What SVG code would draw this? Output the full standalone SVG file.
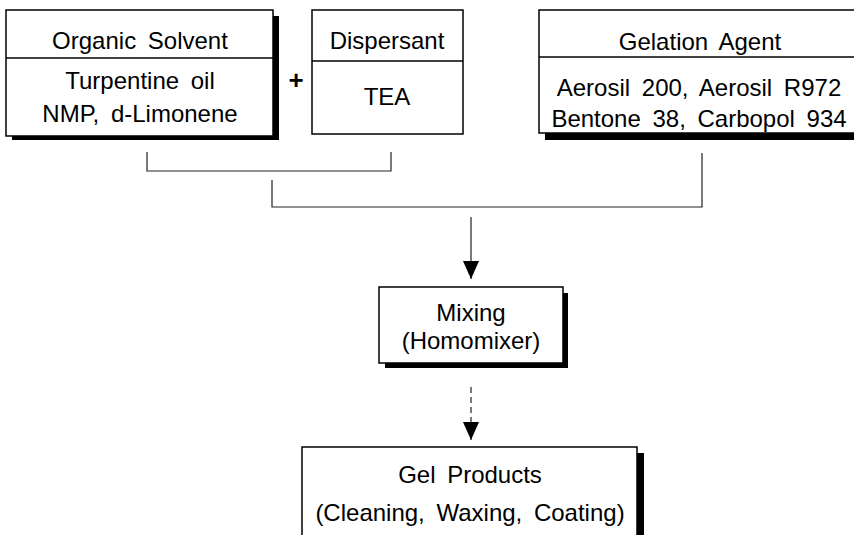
<svg xmlns="http://www.w3.org/2000/svg" width="854" height="535" viewBox="0 0 854 535">
<style>
.box{fill:#fff;stroke:#000;stroke-width:1.5}
.sh{fill:#000}
.div{stroke:#000;stroke-width:1.5}
text{font-family:"Liberation Sans",Arial,sans-serif;font-size:24px;fill:#000;text-anchor:middle;word-spacing:5px}
.plus{font-size:26px;font-weight:bold}
.conn{fill:none;stroke:#222;stroke-width:1.2}
</style>
<defs>
<marker id="ah" viewBox="0 0 18 16" refX="18" refY="8" markerWidth="18" markerHeight="16" markerUnits="userSpaceOnUse" orient="auto">
<path d="M0,0 L18,8 L0,16 Z" fill="#000"/>
</marker>
</defs>
<rect width="854" height="535" fill="#fff"/>
<g id="organic-solvent">
<rect class="sh" x="12" y="16" width="267" height="124"/>
<rect class="box" x="6" y="10" width="267" height="126"/>
<line class="div" x1="6" y1="58" x2="273" y2="58"/>
<text x="140" y="49">Organic Solvent</text>
<text x="140" y="89">Turpentine oil</text>
<text x="140" y="122">NMP, d-Limonene</text>
</g>
<g id="plus">
<text class="plus" x="296" y="89">+</text>
</g>
<g id="dispersant">
<rect class="box" x="312" y="10" width="151" height="124"/>
<line class="div" x1="312" y1="61" x2="463" y2="61"/>
<text x="387" y="49">Dispersant</text>
<text x="387" y="105">TEA</text>
</g>
<g id="gelation-agent">
<rect class="sh" x="545" y="16" width="320" height="124"/>
<rect class="box" x="539" y="10" width="322" height="123"/>
<line class="div" x1="539" y1="57" x2="861" y2="57"/>
<text x="700" y="50">Gelation Agent</text>
<text x="699" y="96">Aerosil 200, Aerosil R972</text>
<text x="699" y="127">Bentone 38, Carbopol 934</text>
</g>
<g id="mixing">
<rect class="sh" x="385" y="293" width="183" height="75"/>
<rect class="box" x="379" y="287" width="184" height="76"/>
<text x="471" y="321">Mixing</text>
<text x="471" y="349">(Homomixer)</text>
</g>
<g id="gel-products">
<rect class="sh" x="308" y="453" width="336" height="90"/>
<rect class="box" x="302" y="447" width="335" height="95"/>
<text x="470" y="483">Gel Products</text>
<text x="470" y="521">(Cleaning, Waxing, Coating)</text>
</g>
<g id="connectors">
<path class="conn" d="M147,152 V171 H391 V152"/>
<path class="conn" d="M272,180 V207 H702 V153"/>
<line class="conn" x1="471" y1="217" x2="471" y2="279" marker-end="url(#ah)"/>
<line class="conn" x1="471" y1="387" x2="471" y2="440" stroke-dasharray="6,4" marker-end="url(#ah)"/>
</g>
</svg>
